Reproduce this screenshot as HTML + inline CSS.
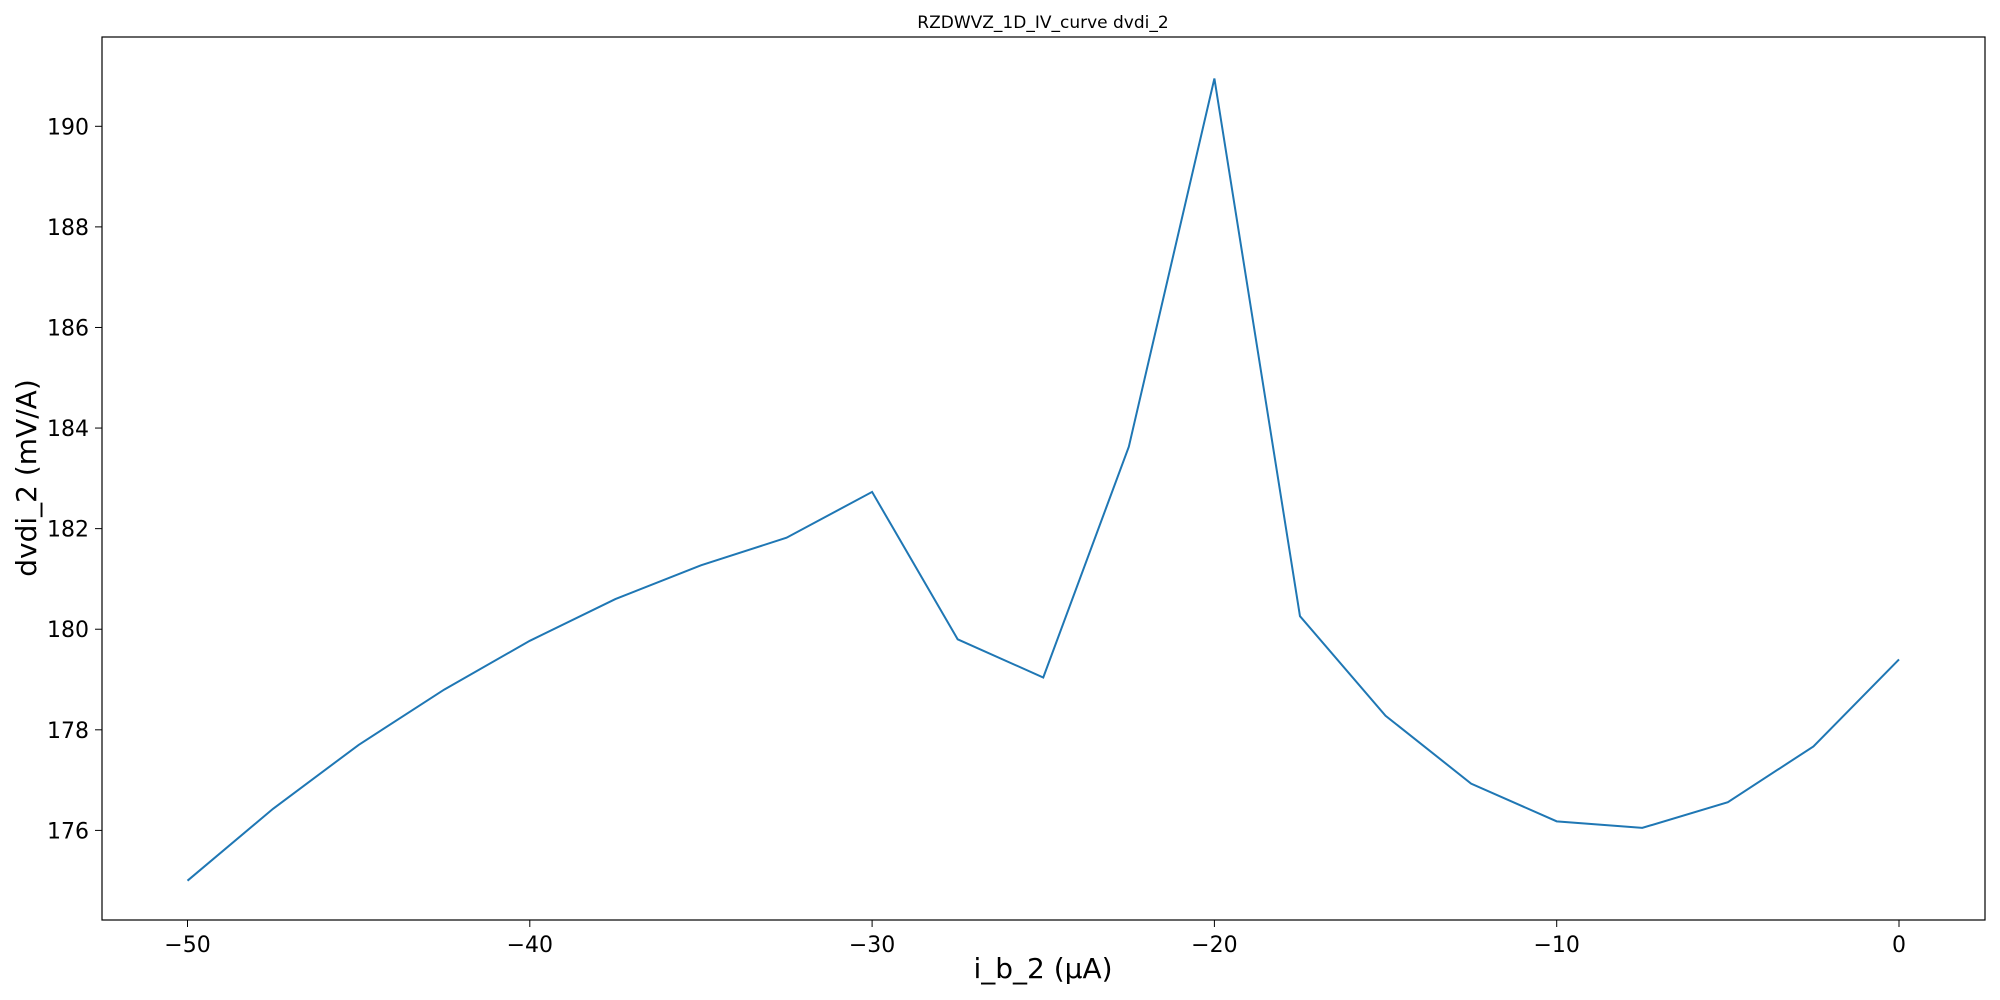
<!DOCTYPE html>
<html><head><meta charset="utf-8"><style>
html,body{margin:0;padding:0;background:#fff;}
svg{display:block;font-family:"DejaVu Sans","Liberation Sans",sans-serif;}
</style></head><body>
<svg id="chart" width="2000" height="1000">
<text x="1043" y="28" font-size="17" text-anchor="middle">RZDWVZ_1D_IV_curve dvdi_2</text>
<rect x="102" y="37" width="1883" height="883" fill="none" stroke="#000" stroke-width="1.2"/>
<g id="xt"></g><g id="yt"></g>
<polyline id="line" fill="none" stroke="#1f77b4" stroke-width="2"/>
<text x="1043" y="978" font-size="28" text-anchor="middle">i_b_2 (μA)</text>
<text x="36" y="478" font-size="28" text-anchor="middle" transform="rotate(-90 36 478)">dvdi_2 (mV/A)</text>
</svg>
<script>
const xValues=[-50,-47.5,-45,-42.5,-40,-37.5,-35,-32.5,-30,-27.5,-25,-22.5,-20,-17.5,-15,-12.5,-10,-7.5,-5,-2.5,0];
const yValues=[175.0,176.43,177.7,178.8,179.77,180.6,181.27,181.82,182.73,179.8,179.04,183.63,190.95,180.26,178.28,176.93,176.18,176.05,176.56,177.67,179.4];
const xTicks=[-50,-40,-30,-20,-10,0];
const yTicks=[176,178,180,182,184,186,188,190];
const NS='http://www.w3.org/2000/svg';
function sx(v){return 187.5+(v+50)/50*(1899-187.5);}
function sy(v){return 830.4-(v-176)/14*(830.4-126.3);}
document.getElementById('line').setAttribute('points',xValues.map((x,i)=>sx(x)+','+sy(yValues[i])).join(' '));
const xt=document.getElementById('xt'),yt=document.getElementById('yt');
xTicks.forEach(t=>{
 const l=document.createElementNS(NS,'line');
 l.setAttribute('x1',sx(t));l.setAttribute('x2',sx(t));l.setAttribute('y1',920);l.setAttribute('y2',927);l.setAttribute('stroke','#000');
 
 
 xt.appendChild(l);
 const s=document.createElementNS(NS,'text');
 s.setAttribute('x',sx(t));s.setAttribute('y',952);s.setAttribute('font-size','22');s.setAttribute('text-anchor','middle');
 s.textContent=t<0?'\u2212'+(-t):String(t);
 
 
 xt.appendChild(s);
});
yTicks.forEach(t=>{
 const l=document.createElementNS(NS,'line');
 l.setAttribute('x1',95);l.setAttribute('x2',102);l.setAttribute('y1',sy(t));l.setAttribute('y2',sy(t));l.setAttribute('stroke','#000');
 
 
 yt.appendChild(l);
 const s=document.createElementNS(NS,'text');
 s.setAttribute('x',89);s.setAttribute('y',sy(t)+8);s.setAttribute('font-size','22');s.setAttribute('text-anchor','end');
 s.textContent=String(t);
 
 
 yt.appendChild(s);
});
</script>
</body></html>
